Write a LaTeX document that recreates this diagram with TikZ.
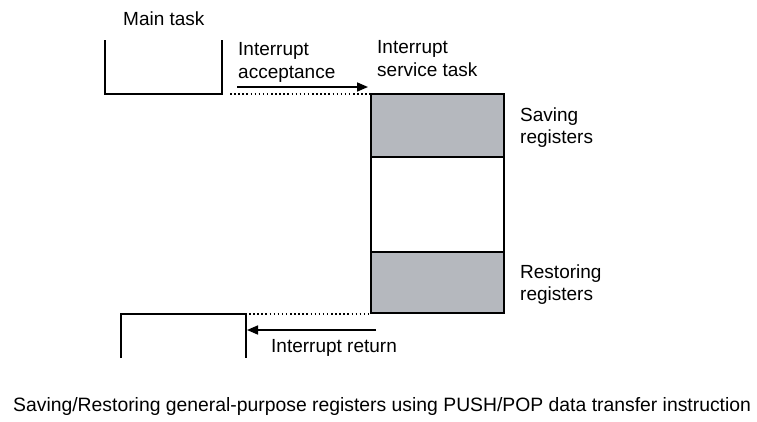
\documentclass[tikz,border=0pt]{standalone}
\usepackage{fontspec}
\setmainfont{Liberation Sans}
\usetikzlibrary{arrows.meta}
\definecolor{regfill}{RGB}{181,184,190}
\tikzset{
  lbl/.style={anchor=base west, inner sep=0pt, font=\fontsize{19}{23}\selectfont},
  boxline/.style={line width=1.6pt, line join=miter},
  dotline/.style={line width=1.6pt, dash pattern=on 1.5pt off 2.6pt},
  arr/.style={line width=1.6pt, -{Triangle[length=11pt,width=9pt]}},
  segbox/.style={draw, line width=1.6pt, minimum width=133pt, inner sep=0pt, outer sep=0pt},
  regbox/.style={segbox, fill=regfill}
}
\begin{document}
\begin{tikzpicture}[x=1pt,y=-1pt]
\useasboundingbox (0,0) rectangle (757,421);
% labels
\node[lbl] (mt) at (123,25) {Main task};
\node[lbl] (ia1) at (238,55) {Interrupt};
\node[lbl] (ia2) at (238,78) {acceptance};
\node[lbl] (st1) at (377,53) {Interrupt};
\node[lbl] (st2) at (377,76) {service task};
\node[lbl] (sv1) at (520,121) {Saving};
\node[lbl] (sv2) at (520,143) {registers};
\node[lbl] (rs1) at (520,278) {Restoring};
\node[lbl] (rs2) at (520,300) {registers};
\node[lbl] (ir) at (271,352) {Interrupt return};
\node[lbl, font=\fontsize{19.35}{23}\selectfont] (cap) at (13,411) {Saving/Restoring general-purpose registers using PUSH/POP data transfer instruction};
% main task upper
\coordinate (u1) at (105,40);
\coordinate (u2) at (105,94);
\coordinate (u3) at (222,94);
\coordinate (u4) at (222,40);
\draw[boxline] (u1) -- (u2) -- (u3) -- (u4);
% service task box
\node[regbox, minimum height=63pt, anchor=north west] (save) at (371,94) {};
\node[segbox, minimum height=95pt, anchor=north] (mid) at (save.south) {};
\node[regbox, minimum height=61pt, anchor=north] (rest) at (mid.south) {};
% lower main task
\coordinate (l1) at (121,358);
\coordinate (l2) at (121,314);
\coordinate (l3) at (246,314);
\coordinate (l4) at (246,358);
\draw[boxline] (l1) -- (l2) -- (l3) -- (l4);
% dotted connectors
\draw[dotline] ([xshift=8pt]u3) -- (u3 -| save.west);
\draw[dotline] ([xshift=3pt]l3) -- (l3 -| rest.west);
% arrows
\coordinate (a1s) at (237,87);
\coordinate (a1e) at (368,87);
\draw[arr] (a1s) -- (a1e);
\coordinate (a2s) at (376,330);
\coordinate (a2e) at (247,330);
\draw[arr] (a2s) -- (a2e);
\end{tikzpicture}
\end{document}
